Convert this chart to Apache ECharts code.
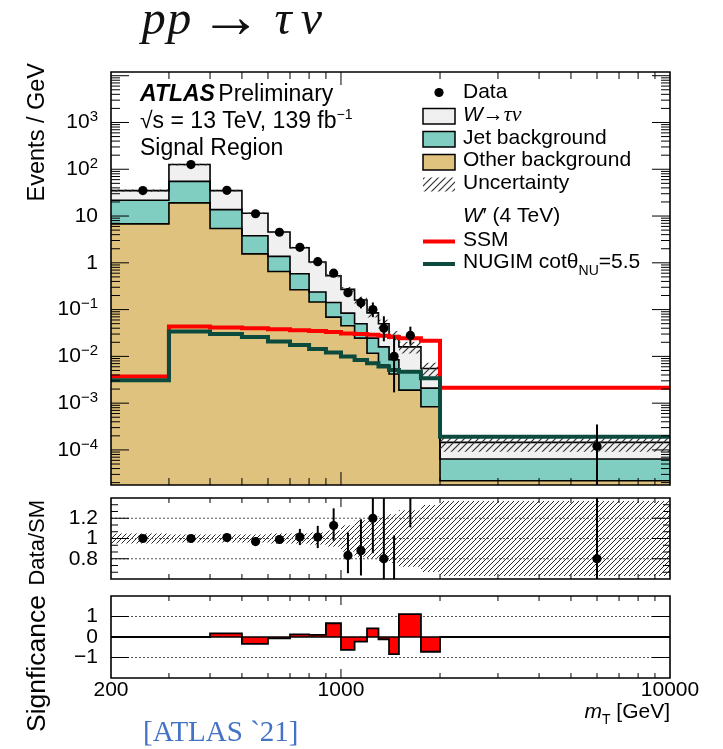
<!DOCTYPE html>
<html><head><meta charset="utf-8">
<script src="https://cdn.jsdelivr.net/npm/echarts@6/dist/echarts.min.js"></script>
<style>html,body{margin:0;padding:0;background:#fff}#c{width:723px;height:749px}</style>
</head><body><div id="c"></div>
<script>
// ---------------- data ----------------
const binEdges = [200,300,400,500,600,700,800,900,1000,1100,1200,1300,1400,1500,1750,2000,10000];
const dataPoints  = [35,126,35.5,11.2,4.5,2.14,1.06,0.60,0.23,0.14,0.10,0.04,0.01,0.028,null,1.2e-4];
const dataErrUp   = [0.6,1.1,0.6,0.33,0.21,0.15,0.10,0.08,0.055,0.042,0.042,0.032,0.018,0.0152,null,2.3e-4];
const dataErrDown = [0.6,1.1,0.6,0.33,0.21,0.15,0.10,0.08,0.045,0.034,0.031,0.019,0.0083,0.0103,null,1.05e-4];
const otherBkg = [6.8,19.1,5.4,1.55,0.65,0.265,0.145,0.069,0.045,0.0245,0.0117,0.0065,0.0042,0.0019,0.00084,2.2e-5];
const jetBkg   = [14.9,35.9,8.3,2.25,0.72,0.32,0.092,0.073,0.039,0.0255,0.0128,0.0095,0.0043,0.0027,0.00126,4.2e-5];
const wTauNu   = [13.3,71,21.3,7.7,3.18,1.515,0.803,0.388,0.186,0.11,0.0605,0.034,0.0195,0.0114,0.0034,8.1e-5];
const bkgRelUnc = [0.05,0.04,0.04,0.04,0.05,0.05,0.06,0.08,0.13,0.18,0.2,0.22,0.24,0.28,0.33,0.37];
const ssmSignal   = [0.0037,0.0435,0.0414,0.040,0.038,0.036,0.035,0.033,0.031,0.030,0.029,0.0275,0.026,0.0245,0.0215,0.00213];
const nugimSignal = [0.0031,0.034,0.030,0.026,0.0207,0.0176,0.0143,0.0121,0.0099,0.0084,0.0071,0.0061,0.0051,0.0047,0.0034,1.92e-4];
const ratioData    = [1.0,1.0,1.01,0.97,0.99,1.015,1.015,1.128,0.833,0.88,1.2,0.8,0.36,1.75,null,0.8];
const ratioErrUp   = [0.02,0.02,0.02,0.03,0.04,0.08,0.11,0.17,0.225,0.31,0.5,0.64,0.67,0.95,null,2.0];
const ratioErrDown = [0.02,0.02,0.02,0.03,0.04,0.08,0.11,0.15,0.176,0.245,0.345,0.38,0.3,0.64,null,0.7];
const significance = [0,0,0.18,-0.34,-0.07,0.13,0.1,0.67,-0.63,-0.23,0.42,-0.11,-0.84,1.12,-0.72,0];
const xTickLabels = [200,1000,10000];
const ratioTickLabels = [0.8,1,1.2];
const sigTickLabels = [-1,0,1];

// ---------------- styling ----------------
const SANS = '"Liberation Sans", Arial, Helvetica, sans-serif';
const SERIF = '"Liberation Serif", "Times New Roman", serif';
const C_W = '#f0f0f0', C_JET = '#80cdc1', C_OTHER = '#dfc27d', C_SSM = '#ff0000', C_NUGIM = '#0b4a3c';
const Y_MIN = 1.78e-5, Y_MAX = 1.2e4;
const R_MIN = 0.6, R_MAX = 1.4, S_MIN = -2, S_MAX = 2;

const otherTop = otherBkg.slice();
const jetTop = otherBkg.map((v,i)=>v+jetBkg[i]);
const totTop = jetTop.map((v,i)=>v+wTauNu[i]);
const bandLo = totTop.map((v,i)=>v*(1-bkgRelUnc[i]));
const bandHi = totTop.map((v,i)=>v*(1+bkgRelUnc[i]));
const ratioBandLo = bkgRelUnc.map(u=>1-u);
const ratioBandHi = bkgRelUnc.map(u=>1+u);
const bottomMain = binEdges.slice(0,-1).map(()=>Y_MIN);
const zeros = binEdges.slice(0,-1).map(()=>0);
const binCenters = binEdges.slice(0,-1).map((e,i)=>(e+binEdges[i+1])/2);

function makeHatch(size, lw, color){
  const c = document.createElement('canvas'); c.width = size; c.height = size;
  const ctx = c.getContext('2d'); ctx.strokeStyle = color; ctx.lineWidth = lw;
  ctx.beginPath();
  ctx.moveTo(0,size); ctx.lineTo(size,0);
  ctx.moveTo(-size/2,size/2); ctx.lineTo(size/2,-size/2);
  ctx.moveTo(size/2,size*1.5); ctx.lineTo(size*1.5,size/2);
  ctx.stroke();
  return c;
}
const hatchMain = {image: makeHatch(7, 1.2, '#333'), repeat:'repeat'};
const hatchRatio = {image: makeHatch(5, 1, '#2a2a2a'), repeat:'repeat'};

const clamp = (v,lo,hi)=>Math.min(hi,Math.max(lo,v));

// filled band between two step curves, drawn as one polygon (no seams)
function fillSeries(g, lows, highs, fill, z, lim){
  return {type:'custom', xAxisIndex:g, yAxisIndex:g, z, silent:true, clip:true,
    data:[[binEdges[0], clamp(highs[0],lim[0],lim[1])]],
    renderItem(params, api){
      const pts = [];
      for (let i=0;i<highs.length;i++){
        const v = clamp(highs[i], lim[0], lim[1]);
        pts.push(api.coord([binEdges[i], v]), api.coord([binEdges[i+1], v]));
      }
      for (let i=lows.length-1;i>=0;i--){
        const v = clamp(lows[i], lim[0], lim[1]);
        pts.push(api.coord([binEdges[i+1], v]), api.coord([binEdges[i], v]));
      }
      return {type:'polygon', shape:{points:pts}, style:{fill, stroke:null}};
    }};
}
function boxSeries(g, lows, highs, fill, z, lim){
  return {type:'custom', xAxisIndex:g, yAxisIndex:g, z, silent:true, clip:true,
    data: highs.map((h,i)=>[binEdges[i], clamp(h==null?lim[0]:h, lim[0], lim[1])]),
    renderItem(params, api){
      const i = params.dataIndex;
      let lo = lows[i], hi = highs[i];
      if (lo==null || hi==null) return;
      lo = clamp(lo, lim[0], lim[1]); hi = clamp(hi, lim[0], lim[1]);
      const a = api.coord([binEdges[i], lo]), b = api.coord([binEdges[i+1], hi]);
      return {type:'rect', shape:{x:a[0], y:Math.min(a[1],b[1]), width:b[0]-a[0], height:Math.abs(a[1]-b[1])}, style:{fill}};
    }};
}
function stepSeries(g, vals, color, lw, z, lim){
  return {type:'custom', xAxisIndex:g, yAxisIndex:g, z, silent:true, clip:true,
    data:[[binEdges[0], clamp(vals[0],lim[0],lim[1])]],
    renderItem(params, api){
      const pts = [];
      for (let i=0;i<vals.length;i++){
        const v = clamp(vals[i], lim[0], lim[1]);
        pts.push(api.coord([binEdges[i], v]));
        pts.push(api.coord([binEdges[i+1], v]));
      }
      return {type:'polyline', shape:{points:pts}, style:{stroke:color, lineWidth:lw, fill:null, lineJoin:'miter'}};
    }};
}
function pointSeries(g, xs, vals, up, down, lim, r, z){
  return {type:'custom', xAxisIndex:g, yAxisIndex:g, z, silent:true, clip:true,
    data: vals.map((v,i)=>[xs[i], v==null?lim[0]:clamp(v,lim[0],lim[1])]),
    renderItem(params, api){
      const i = params.dataIndex, v = vals[i];
      if (v==null) return;
      const hi = clamp(v+up[i], lim[0], lim[1]);
      const lo = clamp(v-down[i] > 0 || lim[0] < 0 ? v-down[i] : lim[0], lim[0], lim[1]);
      const pHi = api.coord([xs[i], hi]), pLo = api.coord([xs[i], lo]);
      const children = [{type:'line', shape:{x1:pHi[0], y1:pHi[1], x2:pLo[0], y2:pLo[1]}, style:{stroke:'#000', lineWidth:2}}];
      if (v >= lim[0] && v <= lim[1]) {
        const p = api.coord([xs[i], v]);
        children.push({type:'circle', shape:{cx:p[0], cy:p[1], r}, style:{fill:'#000'}});
      }
      return {type:'group', children};
    }};
}
function guideSeries(g, yvals, ref, style, z){
  return {type:'custom', xAxisIndex:g, yAxisIndex:g, z, silent:true, clip:true,
    data:[ref],
    renderItem(params, api){
      const cs = params.coordSys;
      return {type:'group', children: yvals.map(y=>{
        const py = api.coord([ref[0], y])[1];
        return {type:'line', shape:{x1:cs.x, y1:py, x2:cs.x+cs.width, y2:py}, style};
      })};
    }};
}
function ticksSeries(g, ref, xTicks, yTicks){
  return {type:'custom', xAxisIndex:g, yAxisIndex:g, z:30, silent:true, clip:false,
    data:[ref],
    renderItem(params, api){
      const cs = params.coordSys;
      const L=cs.x, R=cs.x+cs.width, T=cs.y, B=cs.y+cs.height;
      const ch = [];
      const ln = (x1,y1,x2,y2)=>({type:'line', shape:{x1,y1,x2,y2}, style:{stroke:'#000', lineWidth:1}});
      xTicks.forEach(([v,len])=>{ const px = api.coord([v, ref[1]])[0]; ch.push(ln(px,B,px,B-len), ln(px,T,px,T+len)); });
      yTicks.forEach(([v,len])=>{ const py = api.coord([ref[0], v])[1]; ch.push(ln(L,py,L+len,py), ln(R,py,R-len,py)); });
      ch.push({type:'rect', shape:{x:L,y:T,width:cs.width,height:cs.height}, style:{fill:null, stroke:'#000', lineWidth:1.6}});
      return {type:'group', children:ch};
    }};
}

function xTickList(minorLen, majorLen){
  const t = [];
  [300,400,500,600,700,800,900,2000,3000,4000,5000,6000,7000,8000,9000].forEach(v=>t.push([v,minorLen]));
  t.push([1000,majorLen]);
  return t;
}
const yMainTicks = [];
for (let n=-5;n<=4;n++){
  const base = Math.pow(10,n);
  if (base>=Y_MIN && base<=Y_MAX) yMainTicks.push([base,18]);
  for (let k=2;k<=9;k++){ const v=k*base; if (v>Y_MIN && v<Y_MAX) yMainTicks.push([v,9]); }
}
const yRatioTicks = [[0.8,18],[1.0,18],[1.2,18],[2/3,7],[0.7333,7],[0.8667,7],[0.9333,7],[1.0667,7],[1.1333,7],[1.2667,7],[1.3333,7]];
const ySigTicks = [[-1,18],[0,18],[1,18]];

const xAxisBase = {type:'log', logBase:10, min:200, max:10000, axisLine:{show:false}, axisTick:{show:false}, splitLine:{show:false}, axisLabel:{show:false}};
const yLabelRich = {
  b:{fontSize:21, fontFamily:SANS, color:'#000', lineHeight:26},
  s:{fontSize:15, fontFamily:SANS, color:'#000', lineHeight:14, verticalAlign:'top'}
};

const option = {
  animation:false,
  backgroundColor:'#fff',
  grid:[
    {left:111, top:72, width:559, height:413, show:false},
    {left:111, top:498, width:559, height:81, show:false},
    {left:111, top:596, width:559, height:82, show:false}
  ],
  xAxis:[
    Object.assign({gridIndex:0}, xAxisBase),
    Object.assign({gridIndex:1}, xAxisBase),
    Object.assign({}, xAxisBase, {gridIndex:2, axisLabel:{show:true, showMinLabel:true, showMaxLabel:true, margin:2, fontSize:21, fontFamily:SANS, color:'#000',
      formatter:v=>{ const r=Math.round(v); return xTickLabels.includes(r)?String(r):''; }}})
  ],
  yAxis:[
    {gridIndex:0, type:'log', logBase:10, min:Y_MIN, max:Y_MAX, axisLine:{show:false}, axisTick:{show:false}, splitLine:{show:false},
      axisLabel:{show:true, margin:13, showMinLabel:true, showMaxLabel:true, rich:yLabelRich,
        formatter:v=>{ const l=Math.log10(v), e=Math.round(l); if (Math.abs(l-e)>1e-6 || e>3 || e<-4) return '';
          if (e===0) return '{b|1}'; if (e===1) return '{b|10}'; return '{b|10}{s|'+(e<0?'\u2212'+(-e):e)+'}'; }}},
    {gridIndex:1, type:'value', min:R_MIN, max:R_MAX, interval:0.2, axisLine:{show:false}, axisTick:{show:false}, splitLine:{show:false},
      axisLabel:{show:true, margin:13, fontSize:21, fontFamily:SANS, color:'#000',
        formatter:v=>{ const m = ratioTickLabels.find(t=>Math.abs(t-v)<1e-6); return m===undefined?'':String(m); }}},
    {gridIndex:2, type:'value', min:S_MIN, max:S_MAX, interval:1, axisLine:{show:false}, axisTick:{show:false}, splitLine:{show:false},
      axisLabel:{show:true, margin:13, fontSize:21, fontFamily:SANS, color:'#000',
        formatter:v=>{ const m = sigTickLabels.find(t=>Math.abs(t-v)<1e-6); return m===undefined?'':(m<0?'\u2212'+(-m):String(m)); }}}
  ],
  series:[
    // main panel stack
    fillSeries(0, bottomMain, otherTop, C_OTHER, 2, [Y_MIN,Y_MAX]),
    fillSeries(0, otherTop, jetTop, C_JET, 2, [Y_MIN,Y_MAX]),
    fillSeries(0, jetTop, totTop, C_W, 2, [Y_MIN,Y_MAX]),
    stepSeries(0, totTop, '#000', 1.6, 4, [Y_MIN,Y_MAX]),
    stepSeries(0, jetTop, '#000', 1.6, 4, [Y_MIN,Y_MAX]),
    stepSeries(0, otherTop, '#000', 1.6, 4, [Y_MIN,Y_MAX]),
    boxSeries(0, bandLo, bandHi, hatchMain, 5, [Y_MIN,Y_MAX]),
    stepSeries(0, ssmSignal, C_SSM, 4, 6, [Y_MIN,Y_MAX]),
    stepSeries(0, nugimSignal, C_NUGIM, 4, 7, [Y_MIN,Y_MAX]),
    pointSeries(0, binCenters, dataPoints, dataErrUp, dataErrDown, [Y_MIN,Y_MAX], 4.6, 10),
    ticksSeries(0, [1000,1], xTickList(7,13), yMainTicks),
    // ratio panel
    boxSeries(1, ratioBandLo, ratioBandHi, hatchRatio, 2, [R_MIN,R_MAX]),
    guideSeries(1, [0.8,1.0,1.2], [1000,1], {stroke:'#555', lineWidth:1, lineDash:[2,2]}, 3),
    pointSeries(1, binCenters, ratioData, ratioErrUp, ratioErrDown, [R_MIN,R_MAX], 4.6, 10),
    ticksSeries(1, [1000,1], xTickList(5,9), yRatioTicks),
    // significance panel
    guideSeries(2, [-1,1], [1000,0], {stroke:'#555', lineWidth:1, lineDash:[2,2]}, 3),
    fillSeries(2, zeros, significance, C_SSM, 4, [S_MIN,S_MAX]),
    guideSeries(2, [0], [1000,0], {stroke:'#000', lineWidth:1.6}, 5),
    stepSeries(2, significance, '#000', 1.8, 6, [S_MIN,S_MAX]),
    ticksSeries(2, [1000,0], xTickList(5,9), ySigTicks)
  ],
  graphic:[
    // process title
    {type:'text', x:141, y:21, style:{text:'{p|p}{p|p}{a|\u2192}{t|\u03c4}{n|\u03bd}', verticalAlign:'middle', align:'left',
      rich:{p:{fontFamily:SERIF, fontStyle:'italic', fontSize:48, width:25.5, align:'center', lineHeight:56, fill:'#111'},
            a:{fontFamily:SERIF, fontSize:62, width:77, align:'center', lineHeight:56, fill:'#111'},
            t:{fontFamily:SERIF, fontStyle:'italic', fontSize:48, width:28, align:'center', lineHeight:56, fill:'#111'},
            n:{fontFamily:SERIF, fontStyle:'italic', fontSize:48, width:29, align:'center', lineHeight:56, fill:'#111'}}}},
    // axis titles
    {type:'text', x:38, y:63, rotation:Math.PI/2, style:{text:'Events / GeV', fontFamily:SANS, fontSize:23.5, fill:'#000', align:'right', verticalAlign:'middle'}},
    {type:'text', x:38, y:500, rotation:Math.PI/2, style:{text:'Data/SM', fontFamily:SANS, fontSize:22, fill:'#000', align:'right', verticalAlign:'middle'}},
    {type:'text', x:38, y:595, rotation:Math.PI/2, style:{text:'Signficance', fontFamily:SANS, fontSize:26.5, fill:'#000', align:'right', verticalAlign:'middle'}},
    {type:'text', x:670, y:712, style:{text:'{i|m}{s|T}{r| [GeV]}', align:'right', verticalAlign:'middle',
      rich:{i:{fontFamily:SANS, fontStyle:'italic', fontSize:21, lineHeight:30, fill:'#000'},
            s:{fontFamily:SANS, fontSize:14, lineHeight:14, verticalAlign:'bottom', fill:'#000'},
            r:{fontFamily:SANS, fontSize:21, lineHeight:30, fill:'#000'}}}},
    // ATLAS label
    {type:'text', x:140, y:95, style:{text:'{b|ATLAS} {r|Preliminary}', verticalAlign:'middle',
      rich:{b:{fontFamily:SANS, fontWeight:'bold', fontStyle:'italic', fontSize:23, fill:'#000'}, r:{fontFamily:SANS, fontSize:23, fill:'#000'}}}},
    {type:'text', x:140, y:122, style:{text:'{r|\u221as = 13 TeV, 139 fb}{s|\u22121}', verticalAlign:'middle',
      rich:{r:{fontFamily:SANS, fontSize:23, lineHeight:28, fill:'#000'}, s:{fontFamily:SANS, fontSize:14, lineHeight:14, verticalAlign:'top', fill:'#000'}}}},
    {type:'text', x:140, y:148.5, style:{text:'Signal Region', fontFamily:SANS, fontSize:23, fill:'#000', verticalAlign:'middle'}},
    // legend
    {type:'circle', shape:{cx:439, cy:92.5, r:4.6}, style:{fill:'#000'}},
    {type:'text', x:463, y:92.5, style:{text:'Data', fontFamily:SANS, fontSize:21, fill:'#000', verticalAlign:'middle'}},
    {type:'rect', shape:{x:423, y:108.5, width:32, height:15.5}, style:{fill:C_W, stroke:'#000', lineWidth:1.5}},
    {type:'text', x:463, y:115.5, style:{text:'{i|W}{a|\u2192}{g|\u03c4\u03bd}', verticalAlign:'middle',
      rich:{i:{fontFamily:SANS, fontStyle:'italic', fontSize:21, fill:'#000'}, a:{fontFamily:SERIF, fontSize:21, fill:'#000'}, g:{fontFamily:SERIF, fontStyle:'italic', fontSize:22, fill:'#000'}}}},
    {type:'rect', shape:{x:423, y:131.5, width:32, height:15.5}, style:{fill:C_JET, stroke:'#000', lineWidth:1.5}},
    {type:'text', x:463, y:138, style:{text:'Jet background', fontFamily:SANS, fontSize:21, fill:'#000', verticalAlign:'middle'}},
    {type:'rect', shape:{x:423, y:154.5, width:32, height:15.5}, style:{fill:C_OTHER, stroke:'#000', lineWidth:1.5}},
    {type:'text', x:463, y:160.5, style:{text:'Other background', fontFamily:SANS, fontSize:21, fill:'#000', verticalAlign:'middle'}},
    {type:'rect', shape:{x:423, y:177.5, width:32, height:14}, style:{fill:hatchMain}},
    {type:'text', x:463, y:183.5, style:{text:'Uncertainty', fontFamily:SANS, fontSize:21, fill:'#000', verticalAlign:'middle'}},
    {type:'text', x:463, y:216.5, style:{text:'{i|W}{r|\u2032 (4 TeV)}', verticalAlign:'middle',
      rich:{i:{fontFamily:SANS, fontStyle:'italic', fontSize:21, fill:'#000'}, r:{fontFamily:SANS, fontSize:21, fill:'#000'}}}},
    {type:'line', shape:{x1:423, y1:241.5, x2:455, y2:241.5}, style:{stroke:C_SSM, lineWidth:4}},
    {type:'text', x:463, y:240.5, style:{text:'SSM', fontFamily:SANS, fontSize:21, fill:'#000', verticalAlign:'middle'}},
    {type:'line', shape:{x1:423, y1:264, x2:455, y2:264}, style:{stroke:C_NUGIM, lineWidth:4}},
    {type:'text', x:463, y:262, style:{text:'{r|NUGIM cot\u03b8}{s|NU}{r|=5.5}', verticalAlign:'middle',
      rich:{r:{fontFamily:SANS, fontSize:21, lineHeight:32, fill:'#000'}, s:{fontFamily:SANS, fontSize:14, lineHeight:14, verticalAlign:'bottom', fill:'#000'}}}},
    // citation
    {type:'text', x:143, y:733, style:{text:'[ATLAS `21]', fontFamily:SERIF, fontSize:29, fill:'#4472c4', verticalAlign:'middle'}}
  ]
};
const chart = echarts.init(document.getElementById('c'), null, {renderer:'canvas'});
chart.setOption(option);
</script></body></html>
